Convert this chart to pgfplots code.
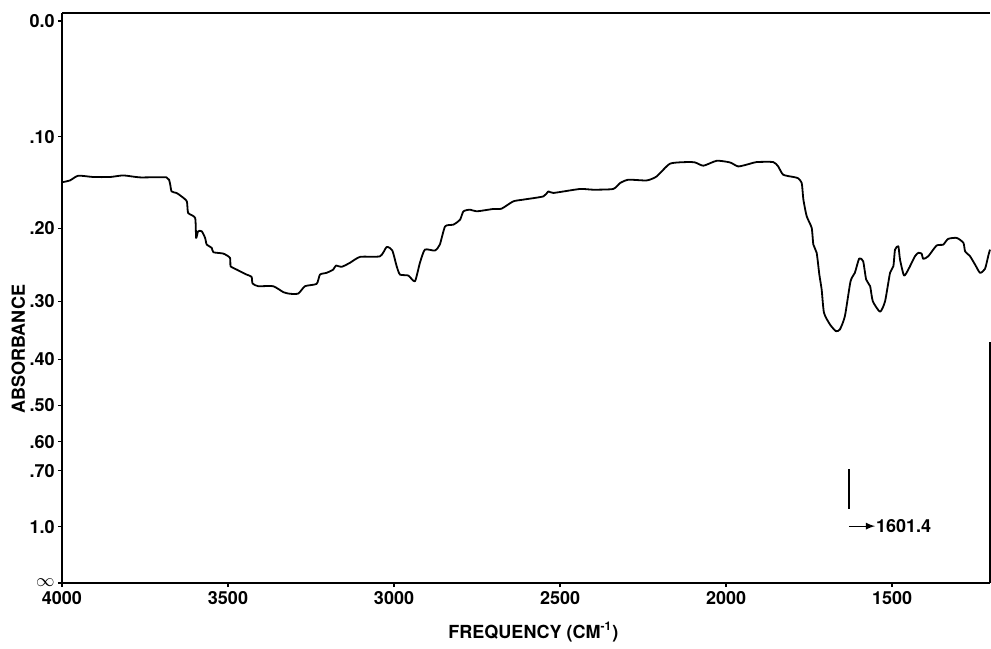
\documentclass[border=0pt]{standalone}
\usepackage{pgfplots}
\pgfplotsset{compat=1.18}
\usepackage{fontspec}
\setmainfont{TeX Gyre Heros}
\newcommand{\lblfont}{\fontsize{9}{11}\selectfont\bfseries}
\begin{document}
\begin{tikzpicture}
\begin{axis}[
  scale only axis,
  width=464pt, height=285pt,
  x dir=reverse,
  xmin=1205, xmax=4000,
  ymin=0, ymax=1.0142,
  axis y line*=left,
  xtick pos=bottom,
  axis line style={line width=0.8pt},
  tick align=outside,
  major tick length=2pt,
  tick style={line width=0.6pt, black},
  xtick={4000,3500,3000,2500,2000,1500},
  xticklabels={4000,3500,3000,2500,2000,1500},
  ytick={0,0.1,0.1995,0.2512,0.3162,0.3981,0.5012,0.6310,0.7943,1},
  yticklabels={$\infty$,1.0,.70,.60,.50,.40,.30,.20,.10,0.0},
  ticklabel style={font=\lblfont},
  label style={font=\lblfont},
  yticklabel style={inner sep=1.5pt},
  xticklabel style={inner sep=2pt},
  xlabel={FREQUENCY (CM\textsuperscript{-1})},
  ylabel={ABSORBANCE},
  xlabel style={at={(axis description cs:0.508,0)}, yshift=-24.5pt, anchor=center},
  ylabel style={at={(axis description cs:-0.047,0.41)}, anchor=center},
  clip=false,
]
\addplot[black, line width=0.9pt, line join=round, smooth, tension=0.35] coordinates {
(4000,0.713) (3976,0.7163) (3951,0.7247) (3906,0.7224) (3855,0.7224)
(3815,0.7252) (3765,0.7217) (3685,0.7217) (3675,0.7117) (3670,0.6968)
(3655,0.6940) (3640,0.6879) (3624,0.6790) (3620,0.6584) (3599,0.6496)
(3596,0.6140) (3590,0.6258) (3579,0.6258) (3569,0.6140) (3564,0.6021)
(3549,0.5963) (3544,0.5885) (3514,0.5861) (3494,0.5785) (3492,0.5636)
(3474,0.5577) (3444,0.5488) (3429,0.5448) (3426,0.5329) (3409,0.5281)
(3364,0.5281) (3333,0.5174) (3313,0.5146) (3288,0.5151) (3268,0.5281)
(3233,0.5323) (3223,0.5488) (3203,0.5519) (3183,0.5577) (3175,0.5648)
(3158,0.5625) (3133,0.5696) (3102,0.5803) (3042,0.5813) (3022,0.5980)
(3005,0.5915) (2992,0.5636) (2982,0.5488) (2957,0.5471) (2937,0.5369)
(2922,0.5696) (2907,0.5932) (2877,0.5915) (2862,0.6021) (2846,0.6346)
(2821,0.6377) (2801,0.6465) (2791,0.6613) (2771,0.6643) (2751,0.6613)
(2701,0.6655) (2676,0.6661) (2641,0.6790) (2611,0.6821) (2550,0.6879)
(2535,0.6968) (2520,0.6940) (2440,0.7011) (2400,0.6998) (2340,0.7011)
(2319,0.7117) (2294,0.7176) (2239,0.7163) (2209,0.7234) (2169,0.7460)
(2118,0.7490) (2093,0.7483) (2068,0.7425) (2028,0.7513) (1988,0.7483)
(1963,0.7412) (1928,0.7460) (1908,0.7490) (1858,0.7490) (1843,0.7412)
(1828,0.7265) (1797,0.7224) (1783,0.7202) (1772,0.7117) (1767,0.6821)
(1757,0.6524) (1742,0.6318) (1737,0.6021) (1727,0.5874) (1719,0.5488)
(1712,0.5222) (1705,0.4808) (1687,0.4600) (1669,0.4481) (1657,0.4512)
(1642,0.4748) (1625,0.5369) (1612,0.5519) (1599,0.5773) (1587,0.5725)
(1578,0.5400) (1566,0.5281) (1558,0.5014) (1536,0.4826) (1521,0.5014)
(1506,0.5519) (1496,0.5636) (1491,0.5932) (1481,0.5991) (1476,0.5755)
(1464,0.5471) (1451,0.5577) (1431,0.5813) (1421,0.5874) (1411,0.5861)
(1406,0.5767) (1391,0.5813) (1366,0.6004) (1346,0.6021) (1331,0.6123)
(1305,0.6140) (1285,0.6052) (1280,0.5902) (1265,0.5813) (1250,0.5666)
(1235,0.5519) (1220,0.5590) (1210,0.5826) (1205,0.5932)
};
\draw[line width=0.8pt] (rel axis cs:1,0) -- (rel axis cs:1,0.423);
\draw[line width=0.9pt] (axis cs:1630,0.2025) -- (axis cs:1630,0.1314);
\draw[line width=0.6pt, -latex] (axis cs:1630,0.1012) -- (axis cs:1551,0.1012);
\node[anchor=west, inner sep=0pt, font=\lblfont] at (axis cs:1549,0.1012) {1601.4};
\end{axis}
\path (-31pt,-31pt) rectangle (464.5pt,291.5pt);
\end{tikzpicture}
\end{document}
